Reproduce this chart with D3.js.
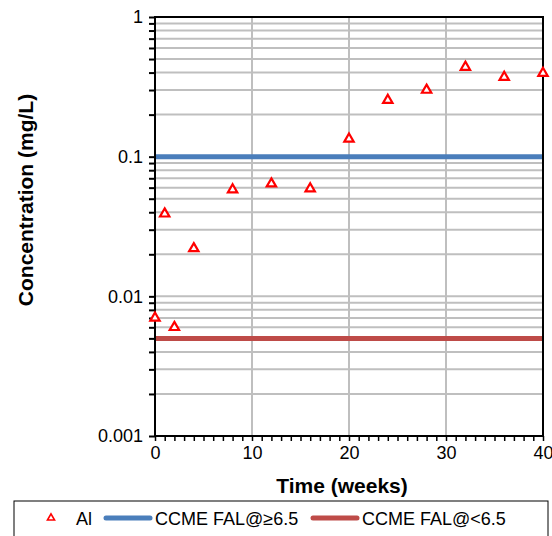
<!DOCTYPE html>
<html><head><meta charset="utf-8">
<script src="https://cdn.jsdelivr.net/npm/d3@7"></script>
<style>body{margin:0;background:#fff}svg{display:block;font-family:"Liberation Sans",Arial,sans-serif}</style>
</head><body>
<svg id="c" width="552" height="536"></svg>
<script>
const weeks = [0, 1, 2, 4, 8, 12, 16, 20, 24, 28, 32, 36, 40];
const alValues = [0.007, 0.039, 0.006, 0.022, 0.058, 0.064, 0.059, 0.134, 0.254, 0.30, 0.438, 0.371, 0.396];
const guidelineHigh = 0.1;   // CCME FAL@≥6.5
const guidelineLow = 0.005;  // CCME FAL@<6.5
const yTickLabels = ["0.001", "0.01", "0.1", "1"];
const xTicks = [0, 10, 20, 30, 40];
const legendLabels = ["Al", "CCME FAL@≥6.5", "CCME FAL@<6.5"];

const svg = d3.select("#c");
const L = 155, R = 543, T = 17, B = 436;
const x = d3.scaleLinear().domain([0, 40]).range([L, R]);
const y = d3.scaleLog().domain([0.001, 1]).range([B, T]);

const minor = [];
for (let e = -3; e < 0; e++) for (let m = 1; m <= 9; m++) minor.push(m * Math.pow(10, e));
minor.push(1);

svg.append("g").selectAll("line").data(minor.filter(v => v > 0.001 && v < 1)).join("line")
  .attr("x1", L).attr("x2", R).attr("y1", d => y(d)).attr("y2", d => y(d))
  .attr("stroke", "#bfbfbf").attr("stroke-width", 2);
svg.append("g").selectAll("line").data([10, 20, 30]).join("line")
  .attr("x1", d => x(d)).attr("x2", d => x(d)).attr("y1", T).attr("y2", B)
  .attr("stroke", "#bfbfbf").attr("stroke-width", 2);

svg.append("line").attr("x1", L).attr("x2", R).attr("y1", y(guidelineHigh)).attr("y2", y(guidelineHigh))
  .attr("stroke", "#4a7ebb").attr("stroke-width", 5);
svg.append("line").attr("x1", L).attr("x2", R).attr("y1", y(guidelineLow)).attr("y2", y(guidelineLow))
  .attr("stroke", "#be4b48").attr("stroke-width", 5);

svg.append("rect").attr("x", L).attr("y", T).attr("width", R - L).attr("height", B - T)
  .attr("fill", "none").attr("stroke", "#000").attr("stroke-width", 2);

const yAxis = d3.axisLeft(y).tickValues(minor).tickSize(6)
  .tickFormat(d => { const i = [0.001, 0.01, 0.1, 1].findIndex(v => Math.abs(v - d) < 1e-9); return i >= 0 ? yTickLabels[i] : ""; });
const ya = svg.append("g").attr("transform", `translate(${L},0)`).call(yAxis);
ya.select(".domain").remove();
ya.selectAll("line").attr("stroke", "#000").attr("stroke-width", 2);
ya.selectAll("text").attr("font-size", 18).attr("fill", "#000").attr("dx", -3);

const xa = svg.append("g").attr("transform", `translate(0,${B})`)
  .call(d3.axisBottom(x).tickValues(d3.range(0, 41, 1)).tickSize(5)
    .tickFormat(d => xTicks.includes(d) ? String(d) : ""));
xa.select(".domain").remove();
xa.selectAll("line").attr("stroke", "#000").attr("stroke-width", 1.5);
xa.selectAll("text").attr("font-size", 18).attr("fill", "#000").attr("dy", "0.85em");

const tri = d3.symbol().type(d3.symbolTriangle).size(38);
svg.append("g").selectAll("path").data(weeks.map((w, i) => [w, alValues[i]])).join("path")
  .attr("d", tri).attr("transform", d => `translate(${x(d[0])},${y(d[1])})`)
  .attr("fill", "#fff").attr("stroke", "#ff0000").attr("stroke-width", 2.2);

svg.append("text").attr("x", 342).attr("y", 493).attr("text-anchor", "middle")
  .attr("font-size", 21).attr("font-weight", "bold").text("Time (weeks)");
svg.append("text").attr("transform", "translate(33,200) rotate(-90)").attr("text-anchor", "middle")
  .attr("font-size", 21).attr("font-weight", "bold").text("Concentration (mg/L)");

const lg = svg.append("g");
lg.append("rect").attr("x", 14).attr("y", 501).attr("width", 534).attr("height", 40)
  .attr("fill", "#fff").attr("stroke", "#000").attr("stroke-width", 1);
lg.append("path").attr("d", d3.symbol().type(d3.symbolTriangle).size(22))
  .attr("transform", "translate(51,518)").attr("fill", "#fff").attr("stroke", "#ff0000").attr("stroke-width", 1.6);
lg.append("text").attr("x", 76).attr("y", 525).attr("font-size", 18).text(legendLabels[0]);
lg.append("line").attr("x1", 106).attr("x2", 150).attr("y1", 518).attr("y2", 518)
  .attr("stroke", "#4a7ebb").attr("stroke-width", 5).attr("stroke-linecap", "round");
lg.append("text").attr("x", 155).attr("y", 525).attr("font-size", 18).text(legendLabels[1]);
lg.append("line").attr("x1", 313).attr("x2", 357).attr("y1", 518).attr("y2", 518)
  .attr("stroke", "#be4b48").attr("stroke-width", 5).attr("stroke-linecap", "round");
lg.append("text").attr("x", 362).attr("y", 525).attr("font-size", 18).text(legendLabels[2]);
</script>
</body></html>
